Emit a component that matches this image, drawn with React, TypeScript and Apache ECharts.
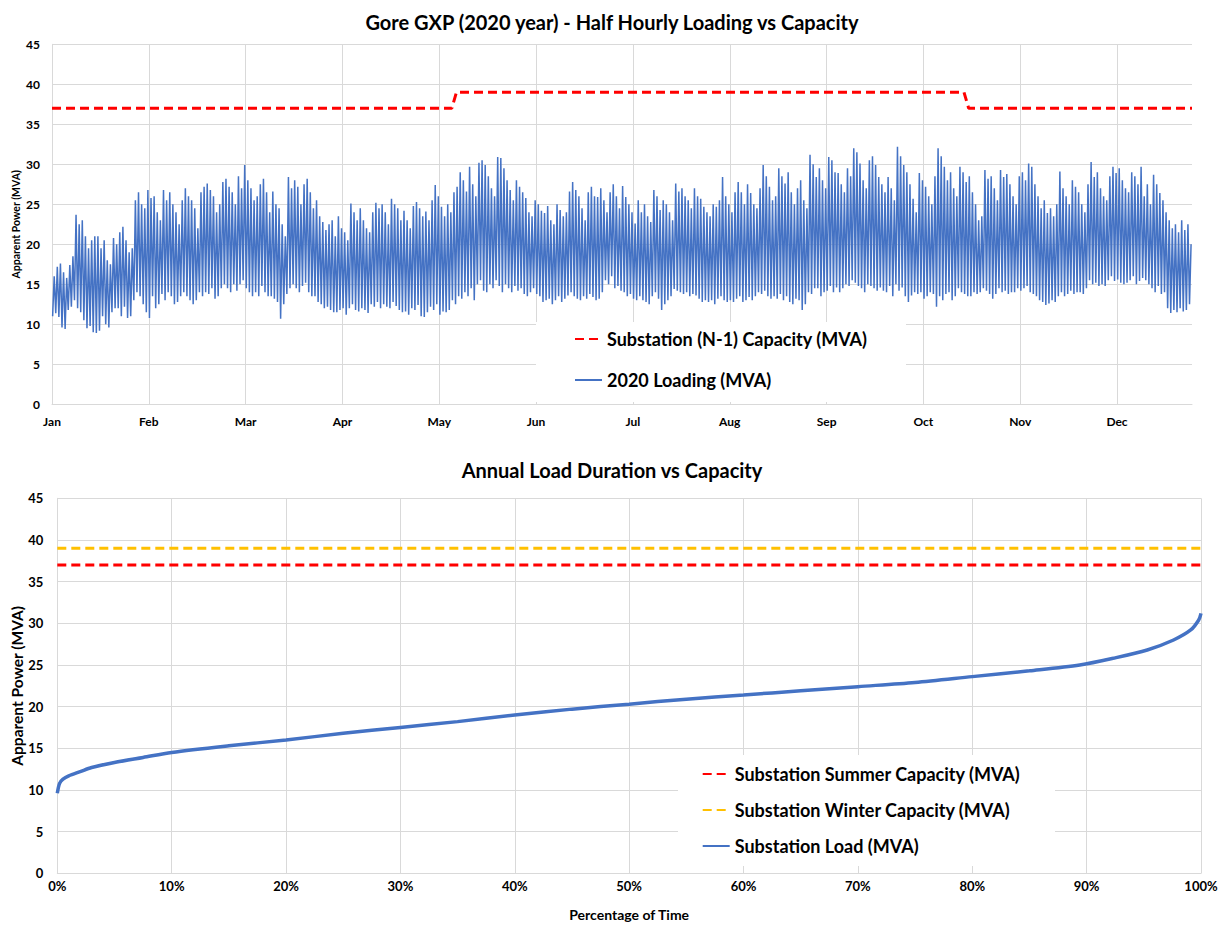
import React, { useEffect, useRef } from "react";
import * as echarts from "echarts";

const MONTHS = ["Jan", "Feb", "Mar", "Apr", "May", "Jun", "Jul", "Aug", "Sep", "Oct", "Nov", "Dec"];

// Daily peak loading (MVA), one value per day of the year
const DAILY_HIGH = [
  16.0, 17.2, 17.6, 16.5, 15.8, 17.4, 18.5,
  23.7, 22.5, 23.0, 21.0, 19.5, 20.5, 21.0,
  21.0, 19.5, 20.5, 18.0, 17.5, 20.8, 20.0,
  21.5, 22.2, 20.5, 19.0, 19.5, 25.5, 26.5,
  25.0, 24.5, 26.8, 25.8, 26.0, 24.0, 23.0,
  26.8, 25.5, 26.5, 25.0, 24.0, 22.5, 25.5,
  27.0, 26.0, 25.5, 24.5, 22.0, 26.5, 27.2,
  27.6, 26.8, 26.0, 24.0, 25.0, 27.8, 28.2,
  27.2, 26.5, 25.0, 28.5, 27.0, 29.9, 28.0,
  27.0, 25.5, 26.0, 27.5, 28.2, 26.5, 24.0,
  26.6, 25.0, 24.5, 22.5, 21.0, 28.4, 27.0,
  28.0, 27.2, 25.0, 27.5, 28.2, 26.5, 24.5,
  25.5, 23.5, 22.8, 21.8, 22.5, 23.0, 21.0,
  23.5, 22.0, 21.5, 20.5, 25.1, 24.0, 23.0,
  24.5, 23.0, 22.0, 21.5, 24.0, 25.2, 24.5,
  25.0, 24.0, 22.5, 25.7, 25.0, 24.5, 23.0,
  24.2, 23.0, 22.0, 24.8, 25.3, 24.5, 23.5,
  24.1, 23.0, 25.5, 27.4, 26.0, 24.7, 23.5,
  25.0, 24.0, 26.5, 27.2, 29.0, 28.0, 26.6,
  29.7, 27.5, 26.0, 30.2, 30.5, 29.9, 28.5,
  27.0, 26.0, 30.9, 30.8, 29.5, 28.0, 26.8,
  25.5, 28.0, 27.2, 26.5, 25.8, 24.0, 23.5,
  25.5, 25.0, 24.2, 23.9, 24.8, 23.0, 22.5,
  25.0, 24.3, 23.5, 24.0, 26.6, 27.8, 26.8,
  26.0, 24.5, 23.0, 26.5, 27.2, 26.0, 25.9,
  27.0, 25.5, 24.0, 26.5, 27.5, 26.0, 24.5,
  27.3, 25.9, 25.0, 24.0, 22.6, 25.5, 24.0,
  25.0, 23.5, 22.8, 26.8, 26.0, 24.3, 25.5,
  25.0, 24.0, 23.0, 27.6, 26.6, 27.0, 26.0,
  25.5, 24.5, 27.0, 26.0, 25.7, 24.7, 24.0,
  23.5, 25.0, 24.7, 25.5, 28.4, 26.0, 25.0,
  24.0, 26.5, 27.8, 26.5, 25.0, 27.5, 26.4,
  25.0, 24.5, 27.0, 29.9, 28.5, 27.2, 25.5,
  26.0, 29.5, 28.5, 27.6, 29.0, 26.5, 25.0,
  27.0, 28.0, 25.5, 24.5, 31.2, 30.0, 28.4,
  29.5, 28.0, 27.0, 30.9, 30.5, 29.0, 28.9,
  27.5, 26.5, 29.5, 28.5, 32.0, 31.5, 30.1,
  28.0, 27.0, 30.5, 31.0, 29.9, 28.4, 27.5,
  26.5, 28.4, 27.0, 25.5, 32.2, 31.0, 29.9,
  29.0, 27.5, 25.7, 24.0, 28.9, 28.0, 27.2,
  26.0, 25.0, 28.5, 32.0, 31.0, 29.7, 28.0,
  29.0, 27.0, 26.0, 29.7, 29.0, 27.8, 28.5,
  26.5, 25.0, 23.0, 23.5, 29.3, 28.2, 28.5,
  27.0, 25.5, 29.3, 28.4, 28.8, 27.5, 26.0,
  25.0, 28.5, 29.0, 28.0, 30.1, 29.7, 27.5,
  26.0, 24.5, 25.5, 23.9, 24.5, 23.5, 25.0,
  29.1, 27.0, 26.0, 25.0, 28.0, 27.2, 26.5,
  25.0, 24.0, 27.5, 30.3, 28.4, 29.0, 27.0,
  26.0, 25.5, 28.5, 29.7, 28.9, 29.5, 28.0,
  27.0, 26.5, 29.0, 28.5, 27.5, 29.7, 26.0,
  27.5, 25.0, 28.7, 27.5, 26.4, 25.5, 24.0,
  23.0, 22.0, 22.5, 21.5, 23.0, 21.8, 22.5, 20.0,
];

// Daily minimum loading (MVA), one value per day of the year
const DAILY_LOW = [
  11.0, 11.4, 10.9, 9.6, 9.4, 11.8, 12.2,
  13.0, 12.0, 11.5, 10.5, 9.5, 9.8, 9.0,
  8.9, 9.2, 11.0, 10.0, 9.6, 11.5, 12.0,
  12.0, 11.0, 12.2, 10.8, 11.0, 13.0, 14.0,
  13.5, 12.5, 11.5, 10.8, 13.5, 12.0, 12.5,
  13.8, 13.0, 14.0, 13.5, 12.5, 12.8, 13.5,
  14.0, 13.5, 13.0, 12.5, 13.0, 14.0, 13.5,
  14.0, 13.8, 14.5, 13.2, 13.5, 14.5, 15.0,
  14.5, 14.0, 15.0, 14.2, 15.0, 15.5, 14.5,
  14.0, 13.5, 14.0, 13.5, 14.8, 14.0, 13.5,
  13.5, 13.2, 12.8, 10.7, 12.5, 13.8, 14.5,
  15.0, 14.5, 14.0, 14.8, 15.2, 14.0, 13.5,
  13.5, 12.8, 12.5, 12.0, 12.2, 11.8, 11.5,
  11.5, 11.8, 12.0, 11.2, 12.0, 12.5, 11.8,
  11.6, 12.0, 11.8, 11.4, 12.5, 12.2, 12.8,
  12.0, 12.5, 12.2, 12.0, 12.8, 12.3, 11.8,
  11.5, 11.6, 11.2, 12.0, 11.8, 12.4, 11.0,
  10.9, 11.5, 12.2, 11.8, 12.5, 11.2, 11.6,
  11.5, 11.8, 13.0, 12.5, 13.5, 13.2, 14.0,
  13.5, 14.5, 13.0, 15.0, 15.5, 14.2, 14.0,
  15.0, 14.5, 15.5, 14.8, 14.0, 15.0, 14.5,
  14.0, 14.8, 14.2, 14.5, 13.8, 13.5, 14.0,
  14.5, 13.8, 13.5, 12.8, 13.0, 13.2, 12.5,
  13.0, 13.5, 12.8, 13.2, 13.6, 14.0, 13.5,
  13.2, 13.0, 13.5, 13.2, 13.8, 13.4, 13.0,
  13.2, 14.0, 15.5, 15.0, 16.0, 14.5, 14.8,
  14.2, 14.0, 13.5, 13.8, 13.2, 13.0, 13.5,
  13.0, 12.8, 12.5, 13.5, 14.0, 13.2, 11.8,
  12.5, 13.0, 13.5, 14.4, 14.2, 14.0, 13.8,
  14.0, 13.5, 13.8, 13.6, 13.2, 12.8, 13.0,
  12.8, 13.0, 12.5, 13.2, 13.5, 13.0, 12.8,
  13.0, 12.8, 13.2, 13.5, 12.8, 13.0, 13.4,
  13.0, 13.5, 14.0, 13.8, 14.2, 13.5, 13.2,
  13.5, 13.2, 13.8, 13.0, 13.5, 12.8, 12.5,
  13.2, 13.0, 11.8, 12.5, 14.0, 13.8, 14.5,
  14.5, 13.5, 14.0, 14.2, 14.8, 14.0, 14.6,
  14.0, 14.5, 15.0, 14.8, 15.5, 15.2, 14.8,
  14.5, 14.0, 15.0, 14.8, 14.5, 14.2, 14.6,
  14.2, 14.0, 14.8, 13.5, 15.0, 14.2, 14.6,
  13.5, 12.8, 13.6, 14.0, 13.8, 14.0, 13.2,
  13.5, 14.0, 13.8, 12.2, 13.5, 13.0, 13.8,
  14.0, 13.0, 13.5, 14.5, 14.0, 13.8, 13.5,
  13.5, 14.0, 13.8, 14.0, 14.5, 14.2, 13.8,
  13.2, 13.8, 14.5, 14.0, 14.2, 13.8, 14.0,
  14.0, 14.5, 14.2, 14.5, 14.8, 14.0, 13.8,
  13.5, 13.0, 12.8, 12.4, 12.6, 13.0, 12.8,
  13.5, 14.0, 13.5, 13.8, 14.2, 13.8, 14.0,
  14.0, 13.8, 14.5, 15.5, 15.0, 15.2, 14.8,
  15.0, 14.8, 15.5, 16.0, 15.4, 15.6, 15.2,
  15.0, 15.2, 15.5, 16.0, 15.0, 15.4, 15.8,
  15.5, 15.0, 14.5, 14.0, 14.8, 13.8, 14.0,
  12.0, 11.4, 11.8, 11.5, 12.0, 11.6, 11.8, 12.5,
];

// N-1 capacity step (day of year, MVA)
const CAPACITY_DAYS = [0, 128, 129.5, 292, 293.5, 365];
const CAPACITY_MVA = [37, 37, 39, 39, 37, 37];

// Load duration curve (percentage of time, MVA)
const LDC_PCT = [0, 0.2, 0.5, 1, 2, 3, 5, 7.5, 10, 15, 20, 25, 30, 35, 40, 45, 50, 55, 60, 65, 70, 75, 80, 85, 89.4, 92.3, 95.3, 97.6, 99.1, 99.8, 100];
const LDC_MVA = [9.6, 10.8, 11.3, 11.7, 12.2, 12.7, 13.3, 13.9, 14.5, 15.3, 16.0, 16.8, 17.5, 18.2, 19.0, 19.7, 20.3, 20.9, 21.4, 21.9, 22.4, 22.9, 23.6, 24.3, 25.0, 25.8, 26.8, 28.0, 29.2, 30.4, 31.2];

const SUMMER_CAPACITY = 37;
const WINTER_CAPACITY = 39;

const FONT = "Lato, 'Noto Sans', sans-serif";
const GRID_COLOR = "#d9d9d9";

export default function App() {
  const ref = useRef<HTMLDivElement>(null);

  useEffect(() => {
    if (!ref.current) return;
    const chart = echarts.init(ref.current, undefined, { renderer: "svg" });

    const loading: number[][] = [];
    DAILY_HIGH.forEach((h, d) => {
      loading.push([d + 0.2, DAILY_LOW[d]]);
      loading.push([d + 0.7, h]);
    });
    const capacity = CAPACITY_DAYS.map((d, i) => [d, CAPACITY_MVA[i]]);
    const ldc = LDC_PCT.map((p, i) => [p, LDC_MVA[i]]);

    const tickFont = { fontFamily: FONT, fontWeight: "bold" as const, color: "#000" };

    const legendItem = (name: string, left: number, top: number) => ({
      data: [name],
      orient: "vertical",
      left,
      top,
      padding: 0,
      itemWidth: 27,
      itemHeight: 14,
      selectedMode: false,
      itemStyle: { opacity: 0 },
      textStyle: { fontFamily: FONT, fontWeight: "bold", fontSize: 18, lineHeight: 20, color: "#000" },
    });

    chart.setOption({
      animation: false,
      textStyle: { fontFamily: FONT },
      title: [
        {
          text: "Gore GXP (2020 year) - Half Hourly Loading vs Capacity",
          left: "center",
          top: 7,
          textStyle: { fontFamily: FONT, fontSize: 20, fontWeight: "bold", color: "#000" },
        },
        {
          text: "Annual Load Duration vs Capacity",
          left: "center",
          top: 455,
          textStyle: { fontFamily: FONT, fontSize: 20, fontWeight: "bold", color: "#000" },
        },
      ],
      grid: [
        { left: 52, top: 44.3, width: 1140, height: 360, outerBoundsMode: "none", containLabel: false },
        { left: 57.3, top: 498.3, width: 1143.7, height: 375, outerBoundsMode: "none", containLabel: false },
      ],
      xAxis: [
        {
          gridIndex: 0,
          type: "value",
          min: 0,
          max: 365,
          interval: 31,
          axisLine: { show: true, lineStyle: { color: GRID_COLOR } },
          axisTick: { show: false },
          axisLabel: { ...tickFont, fontSize: 12, margin: 11, formatter: (v: number) => MONTHS[Math.round(v / 31)] ?? "" },
          splitLine: { show: true, showMaxLine: false, lineStyle: { color: GRID_COLOR } },
        },
        {
          gridIndex: 1,
          type: "value",
          min: 0,
          max: 100,
          interval: 10,
          axisLine: { show: true, lineStyle: { color: GRID_COLOR } },
          axisTick: { show: false },
          axisLabel: { ...tickFont, fontSize: 13, margin: 6, formatter: (v: number) => `${v}%` },
          splitLine: { show: true, lineStyle: { color: GRID_COLOR } },
          name: "Percentage of Time",
          nameLocation: "middle",
          nameGap: 34,
          nameMoveOverlap: false,
          nameTextStyle: { ...tickFont, fontSize: 14 },
        },
      ],
      yAxis: [
        {
          gridIndex: 0,
          type: "value",
          min: 0,
          max: 45,
          interval: 5,
          axisLine: { show: true, lineStyle: { color: GRID_COLOR } },
          axisTick: { show: false },
          axisLabel: { ...tickFont, fontSize: 12, margin: 12 },
          splitLine: { show: true, lineStyle: { color: GRID_COLOR } },
          name: "Apparent Power (MVA)",
          nameLocation: "middle",
          nameGap: 31,
          nameMoveOverlap: false,
          nameTextStyle: { ...tickFont, fontSize: 10.5 },
        },
        {
          gridIndex: 1,
          type: "value",
          min: 0,
          max: 45,
          interval: 5,
          axisLine: { show: true, lineStyle: { color: GRID_COLOR } },
          axisTick: { show: false },
          axisLabel: { ...tickFont, fontSize: 13, margin: 14 },
          splitLine: { show: true, lineStyle: { color: GRID_COLOR } },
          name: "Apparent Power (MVA)",
          nameLocation: "middle",
          nameGap: 32,
          nameMoveOverlap: false,
          nameTextStyle: { ...tickFont, fontSize: 15.5 },
        },
      ],
      legend: [
        legendItem("Substation (N-1) Capacity (MVA)", 574, 329),
        legendItem("2020 Loading (MVA)", 574, 370),
        legendItem("Substation Summer Capacity (MVA)", 701.7, 764),
        legendItem("Substation Winter Capacity (MVA)", 701.7, 800),
        legendItem("Substation Load (MVA)", 701.7, 836),
      ],
      graphic: {
        elements: [
          { type: "rect", z: 3, shape: { x: 536, y: 322, width: 370, height: 80 }, style: { fill: "#fff" } },
          { type: "rect", z: 3, shape: { x: 678, y: 755, width: 377, height: 111 }, style: { fill: "#fff" } },
        ],
      },
      series: [
        {
          name: "Substation (N-1) Capacity (MVA)",
          type: "line",
          xAxisIndex: 0,
          yAxisIndex: 0,
          data: capacity,
          symbol: "none",
          lineStyle: { color: "#FF0000", width: 3, type: [9, 5] },
          itemStyle: { color: "#FF0000" },
          z: 2,
        },
        {
          name: "2020 Loading (MVA)",
          type: "line",
          xAxisIndex: 0,
          yAxisIndex: 0,
          data: loading,
          symbol: "none",
          lineStyle: { color: "#4472C4", width: 1.5 },
          itemStyle: { color: "#4472C4" },
          z: 2,
        },
        {
          name: "Substation Summer Capacity (MVA)",
          type: "line",
          xAxisIndex: 1,
          yAxisIndex: 1,
          data: [[0, SUMMER_CAPACITY], [100, SUMMER_CAPACITY]],
          symbol: "none",
          lineStyle: { color: "#FF0000", width: 3, type: [9, 5] },
          itemStyle: { color: "#FF0000" },
          z: 2,
        },
        {
          name: "Substation Winter Capacity (MVA)",
          type: "line",
          xAxisIndex: 1,
          yAxisIndex: 1,
          data: [[0, WINTER_CAPACITY], [100, WINTER_CAPACITY]],
          symbol: "none",
          lineStyle: { color: "#FFC000", width: 3, type: [9, 5] },
          itemStyle: { color: "#FFC000" },
          z: 2,
        },
        {
          name: "Substation Load (MVA)",
          type: "line",
          xAxisIndex: 1,
          yAxisIndex: 1,
          data: ldc,
          symbol: "none",
          smooth: 0.3,
          lineStyle: { color: "#4472C4", width: 3.5 },
          itemStyle: { color: "#4472C4" },
          z: 2,
        },
      ],
    });

    return () => chart.dispose();
  }, []);

  return <div ref={ref} style={{ position: "absolute", left: 0, top: 0, width: 1224, height: 925 }} />;
}
